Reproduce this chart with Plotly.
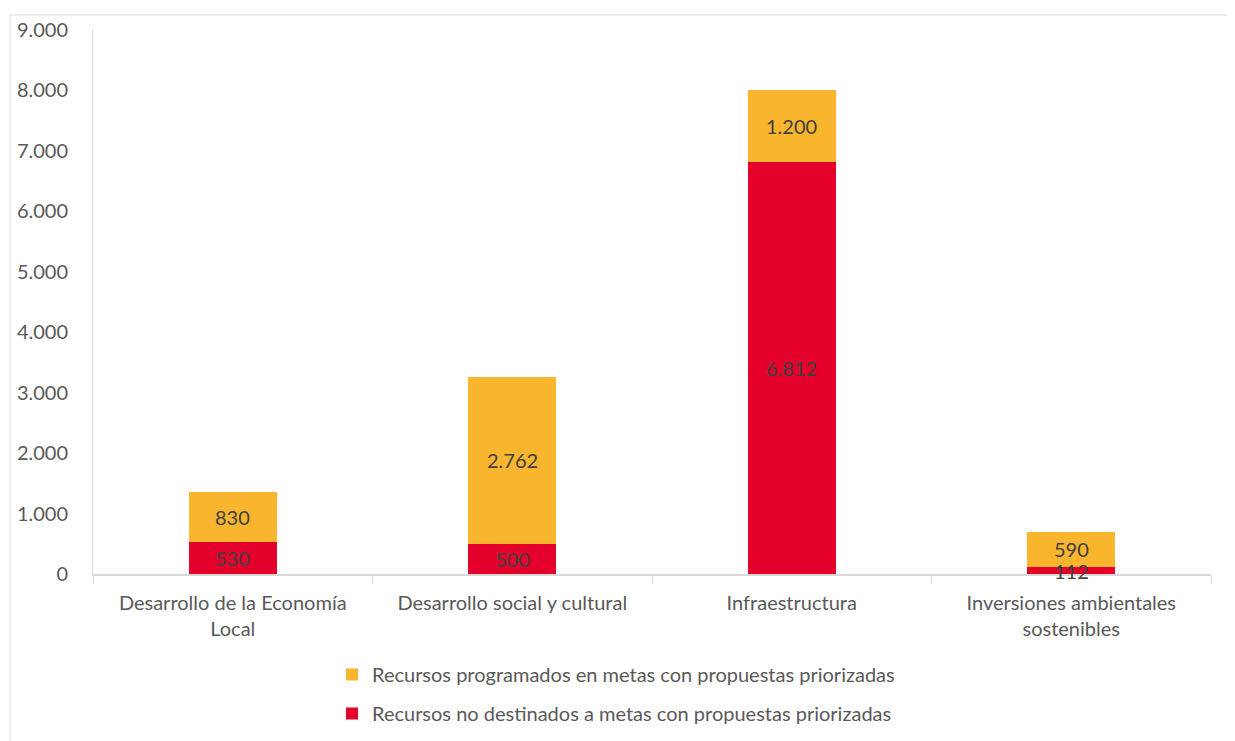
import plotly.graph_objects as go

categories = ["Desarrollo de la Economía<br>Local", "Desarrollo social y cultural",
              "Infraestructura", "Inversiones ambientales<br>sostenibles"]
no_destinados = [530, 500, 6812, 112]
programados = [830, 2762, 1200, 590]
series_names = ["Recursos no destinados a metas con propuestas priorizadas",
                "Recursos programados en metas con propuestas priorizadas"]
tick_vals = [0, 1000, 2000, 3000, 4000, 5000, 6000, 7000, 8000, 9000]

RED = "#E4002B"
ORANGE = "#F9B52E"
FONT = "Lato"
TXT = "#595959"
LBL = "#404040"

# page offset (browser body margin)
OFF = 8
W, H = 1235 - OFF, 741 - OFF
L, T = 93 - OFF, 30 - OFF
R = W - (1211 - OFF)
B = H - (574 - OFF)
pw = W - L - R
ph = H - T - B


def px_to_paper_y(page_y):
    return ((574 - OFF) - (page_y - OFF)) / ph


def px_to_paper_x(page_x):
    return ((page_x - OFF) - L) / pw


def fmt(v):
    return f"{v:,}".replace(",", ".")


fig = go.Figure()
fig.add_trace(go.Bar(
    x=categories, y=no_destinados, name=series_names[0], marker_color=RED,
    marker_line_width=0, width=0.315, legendgroup="a", legendrank=2))
fig.add_trace(go.Bar(
    x=categories, y=programados, name=series_names[1], marker_color=ORANGE,
    marker_line_width=0, width=0.315, legendgroup="b", legendrank=1))

# data labels centred in each segment (placed on the data axes)
for cat, r, o in zip(categories, no_destinados, programados):
    fig.add_annotation(x=cat, y=r / 2, xref="x", yref="y", text=fmt(r),
                       showarrow=False, font=dict(family=FONT, size=20, color=LBL))
    fig.add_annotation(x=cat, y=r + o / 2, xref="x", yref="y", text=fmt(o),
                       showarrow=False, font=dict(family=FONT, size=20, color=LBL))

fig.update_layout(
    width=W, height=H, barmode="stack", separators=",.",
    margin=dict(l=L, r=R, t=T, b=B, pad=0, autoexpand=False),
    paper_bgcolor="white", plot_bgcolor="white",
    font=dict(family=FONT, size=20, color=TXT),
    showlegend=True,
    legend=dict(orientation="v", traceorder="grouped",
                x=px_to_paper_x(616), xanchor="center",
                y=px_to_paper_y(655), yanchor="top",
                font=dict(family=FONT, size=20, color=TXT),
                tracegroupgap=10, itemwidth=30, bgcolor="rgba(0,0,0,0)"),
    xaxis=dict(showgrid=False, showline=True, linecolor="#D9D9D9", linewidth=1.5,
               ticks="outside", tickson="boundaries", ticklen=8, tickcolor="#D9D9D9",
               ticklabelstandoff=10, automargin=False,
               tickfont=dict(family=FONT, size=20, color=TXT)),
    yaxis=dict(range=[0, 9000], tickvals=tick_vals, tickformat=",d", showgrid=False,
               showline=True, linecolor="#D9D9D9", linewidth=1, ticks="",
               zeroline=False, ticklabelstandoff=20, automargin=False,
               tickfont=dict(family=FONT, size=20, color=TXT)),
)

fig.add_shape(type="rect", xref="paper", yref="paper",
              x0=px_to_paper_x(10), x1=px_to_paper_x(1228),
              y0=px_to_paper_y(780), y1=px_to_paper_y(15),
              line=dict(color="#D9D9D9", width=1), fillcolor="rgba(0,0,0,0)", layer="below")

fig.write_html("out.html")
